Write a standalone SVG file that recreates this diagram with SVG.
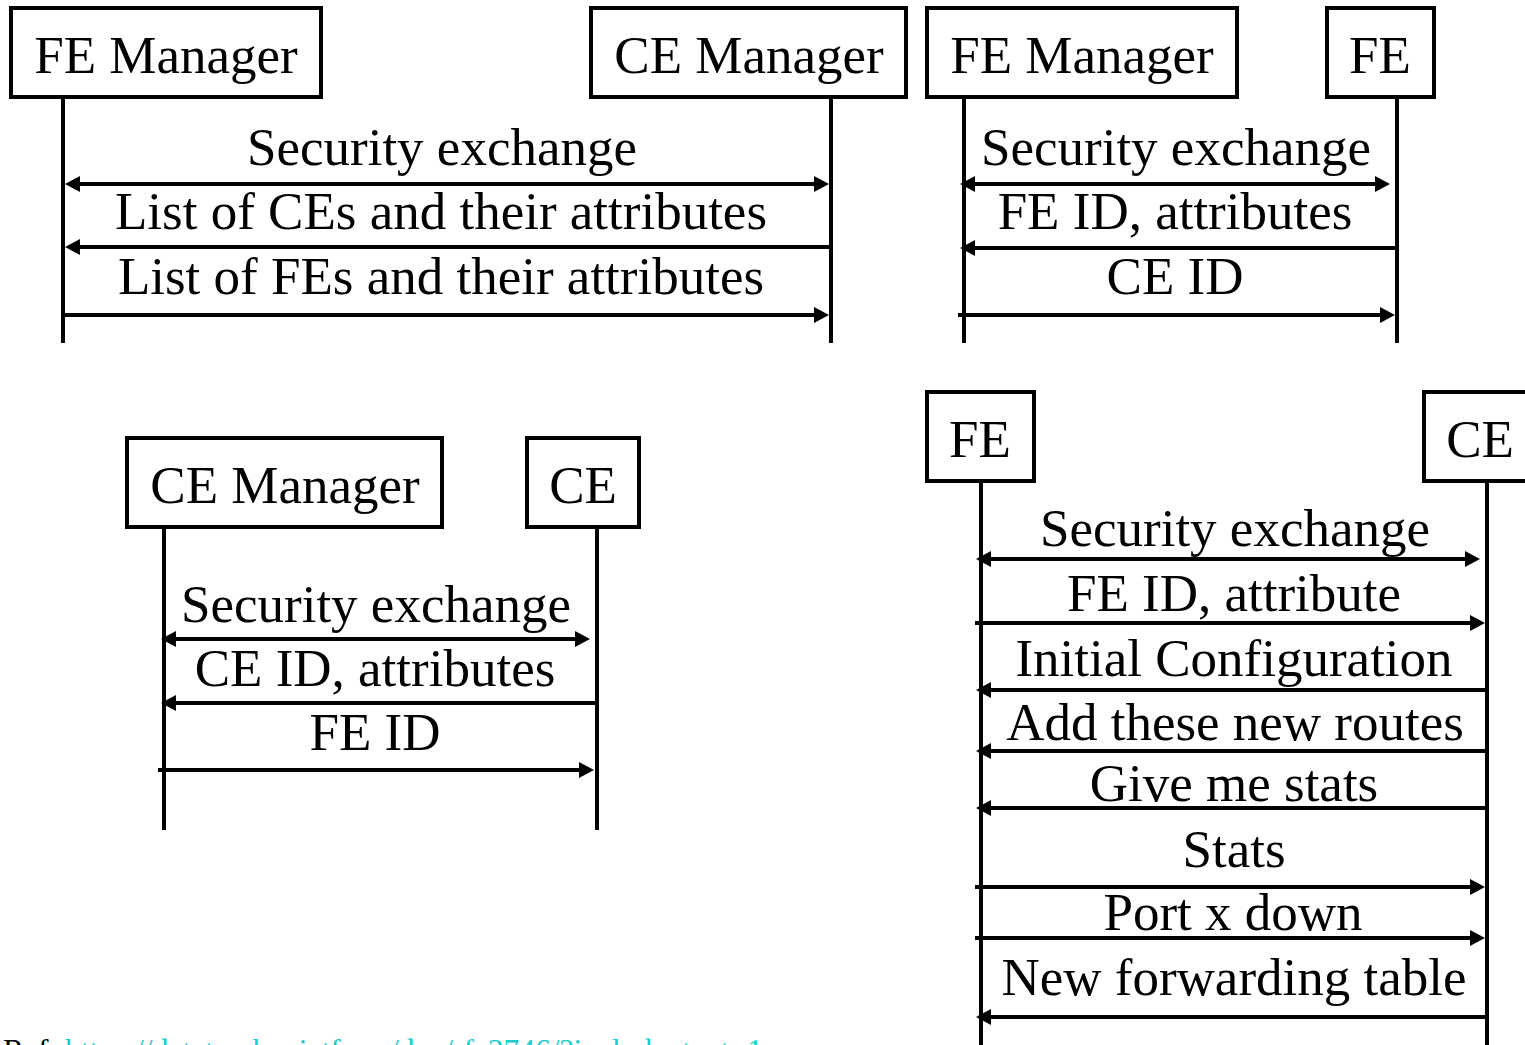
<svg xmlns="http://www.w3.org/2000/svg" width="1525" height="1045" viewBox="0 0 1525 1045">
<style>
.box{fill:#fff;stroke:#000;stroke-width:4}
.life{stroke:#000;stroke-width:4;fill:none}
.msg{stroke:#000;stroke-width:4;fill:none}
.r{marker-end:url(#ah)}
.d{marker-start:url(#ah);marker-end:url(#ah)}
text{font-family:"Liberation Serif","Times New Roman",serif;font-size:53px;fill:#000;text-anchor:middle}
.ref{font-size:31.5px;text-anchor:start}
</style>
<defs>
<marker id="ah" viewBox="0 0 15 16" refX="11" refY="8" markerWidth="15" markerHeight="16" markerUnits="userSpaceOnUse" orient="auto-start-reverse">
<path d="M0,0 L15,8 L0,16 z" fill="#000"/>
</marker>
</defs>

<g id="p1-fe-manager"><rect class="box" x="11" y="8" width="310" height="89"/><text x="166" y="73">FE Manager</text></g>
<g id="p1-ce-manager"><rect class="box" x="591" y="8" width="315" height="89"/><text x="749" y="73">CE Manager</text></g>
<g id="p2-fe-manager"><rect class="box" x="927" y="8" width="310" height="89"/><text x="1082" y="73">FE Manager</text></g>
<g id="p2-fe"><rect class="box" x="1327" y="8" width="107" height="89"/><text x="1380" y="73">FE</text></g>
<g id="p3-ce-manager"><rect class="box" x="127" y="438" width="315" height="89"/><text x="285" y="503">CE Manager</text></g>
<g id="p3-ce"><rect class="box" x="527" y="438" width="112" height="89"/><text x="583" y="503">CE</text></g>
<g id="p4-fe"><rect class="box" x="927" y="392" width="107" height="89"/><text x="980" y="457">FE</text></g>
<g id="p4-ce"><rect class="box" x="1424" y="392" width="112" height="89"/><text x="1480" y="457">CE</text></g>

<g id="connectors">
<line class="life" x1="63" y1="97" x2="63" y2="343"/>
<line class="life" x1="831" y1="97" x2="831" y2="343"/>
<line class="life" x1="964" y1="97" x2="964" y2="343"/>
<line class="life" x1="1397" y1="97" x2="1397" y2="343"/>
<line class="life" x1="164" y1="527" x2="164" y2="830"/>
<line class="life" x1="597" y1="527" x2="597" y2="830"/>
<line class="life" x1="981" y1="481" x2="981" y2="1045"/>
<line class="life" x1="1487" y1="481" x2="1487" y2="1045"/>

<line class="msg d" x1="69" y1="184" x2="825" y2="184"/>
<line class="msg r" x1="831" y1="247" x2="69" y2="247"/>
<line class="msg r" x1="63" y1="315" x2="825" y2="315"/>

<line class="msg d" x1="964" y1="184" x2="1386" y2="184"/>
<line class="msg r" x1="1397" y1="248" x2="964" y2="248"/>
<line class="msg r" x1="958" y1="315" x2="1391" y2="315"/>

<line class="msg d" x1="165" y1="639" x2="586" y2="639"/>
<line class="msg r" x1="597" y1="703" x2="165" y2="703"/>
<line class="msg r" x1="158" y1="770" x2="590" y2="770"/>

<line class="msg d" x1="980" y1="559" x2="1476" y2="559"/>
<line class="msg r" x1="975" y1="623" x2="1481" y2="623"/>
<line class="msg r" x1="1487" y1="690" x2="980" y2="690"/>
<line class="msg r" x1="1487" y1="751" x2="980" y2="751"/>
<line class="msg r" x1="1487" y1="808" x2="980" y2="808"/>
<line class="msg r" x1="975" y1="887" x2="1481" y2="887"/>
<line class="msg r" x1="975" y1="938" x2="1481" y2="938"/>
<line class="msg r" x1="1487" y1="1017" x2="980" y2="1017"/>
</g>

<g id="labels">
<text x="442" y="165">Security exchange</text>
<text x="441" y="229">List of CEs and their attributes</text>
<text x="441" y="294">List of FEs and their attributes</text>

<text x="1176" y="165">Security exchange</text>
<text x="1175" y="229">FE ID, attributes</text>
<text x="1175" y="294">CE ID</text>

<text x="376" y="622">Security exchange</text>
<text x="375" y="686">CE ID, attributes</text>
<text x="375" y="750">FE ID</text>

<text x="1235" y="546">Security exchange</text>
<text x="1234" y="611">FE ID, attribute</text>
<text x="1234" y="676">Initial Configuration</text>
<text x="1235" y="740">Add these new routes</text>
<text x="1234" y="801">Give me stats</text>
<text x="1234" y="867">Stats</text>
<text x="1233" y="930">Port x down</text>
<text x="1234" y="995">New forwarding table</text>
</g>

<text class="ref" x="3" y="1061">Ref: <tspan fill="#19cccc">https://datatracker.ietf.org/doc/rfc3746/?include_text=1</tspan></text>
</svg>
